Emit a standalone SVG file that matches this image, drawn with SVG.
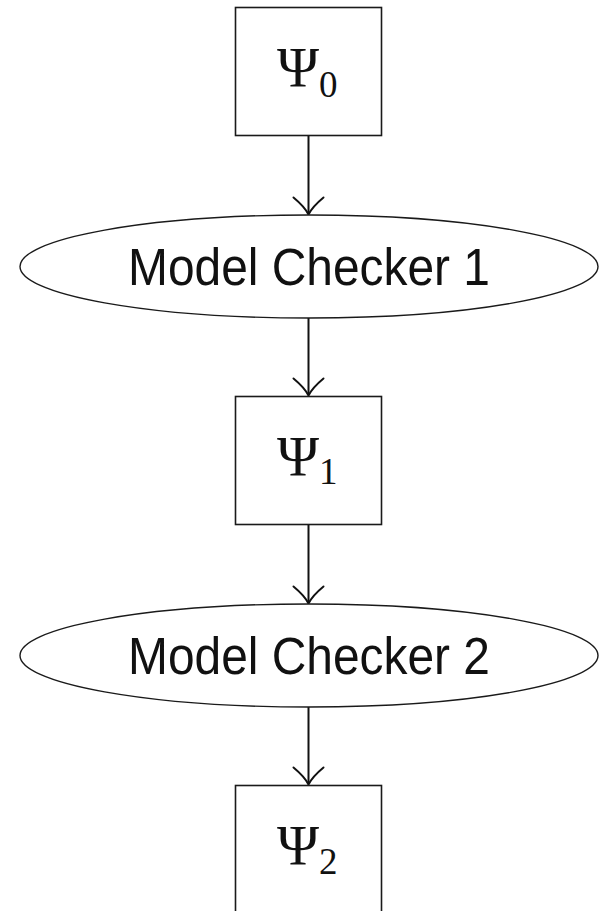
<svg xmlns="http://www.w3.org/2000/svg" xmlns:xlink="http://www.w3.org/1999/xlink" width="611" height="911" viewBox="0 0 611 911">
  <style>
    .box { fill: #ffffff; stroke: #1a1a1a; stroke-width: 1.6; }
    .oval { fill: #ffffff; stroke: #1a1a1a; stroke-width: 1.4; }
    .edge { fill: none; stroke: #111111; stroke-width: 2; }
    .tip { fill: none; stroke: #111111; stroke-width: 2; stroke-linecap: round; stroke-linejoin: round; }
    .sym { font-family: "Liberation Serif", "DejaVu Serif", serif; font-size: 57px; fill: #111111; }
    .sub { font-size: 37px; }
    .lbl { font-family: "Liberation Sans", "DejaVu Sans", sans-serif; font-size: 51px; fill: #111111; }
  </style>
  <defs>
    <!-- curved open arrow tip, point at origin, pointing down -->
    <path id="tip" class="tip" d="M -15 -17 C -9 -12 -2.5 -5 0 0 C 2.5 -5 9 -12 15 -17"/>
  </defs>

  <rect width="611" height="911" fill="#ffffff"/>

  <g id="connectors">
    <line class="edge" x1="308.5" y1="136" x2="308.5" y2="214"/>
    <use xlink:href="#tip" x="308.5" y="214.5"/>
    <line class="edge" x1="308.5" y1="318" x2="308.5" y2="395"/>
    <use xlink:href="#tip" x="308.5" y="395.5"/>
    <line class="edge" x1="308.5" y1="524" x2="308.5" y2="603"/>
    <use xlink:href="#tip" x="308.5" y="603.5"/>
    <line class="edge" x1="308.5" y1="707" x2="308.5" y2="784"/>
    <use xlink:href="#tip" x="308.5" y="784.5"/>
  </g>

  <g id="psi0">
    <rect class="box" x="235.5" y="7.5" width="146" height="128"/>
    <text class="sym" x="277" y="87">Ψ<tspan class="sub" dy="10">0</tspan></text>
  </g>

  <g id="checker1">
    <ellipse class="oval" cx="309" cy="266.5" rx="289" ry="51.5"/>
    <text class="lbl" x="309" y="285" text-anchor="middle" textLength="362" lengthAdjust="spacingAndGlyphs">Model Checker 1</text>
  </g>

  <g id="psi1">
    <rect class="box" x="235.5" y="396.5" width="146" height="128"/>
    <text class="sym" x="277" y="476">Ψ<tspan class="sub" dy="8">1</tspan></text>
  </g>

  <g id="checker2">
    <ellipse class="oval" cx="309" cy="655.5" rx="289" ry="51.5"/>
    <text class="lbl" x="309" y="674" text-anchor="middle" textLength="362" lengthAdjust="spacingAndGlyphs">Model Checker 2</text>
  </g>

  <g id="psi2">
    <rect class="box" x="235.5" y="785.5" width="146" height="128"/>
    <text class="sym" x="277" y="865">Ψ<tspan class="sub" dy="9">2</tspan></text>
  </g>
</svg>
